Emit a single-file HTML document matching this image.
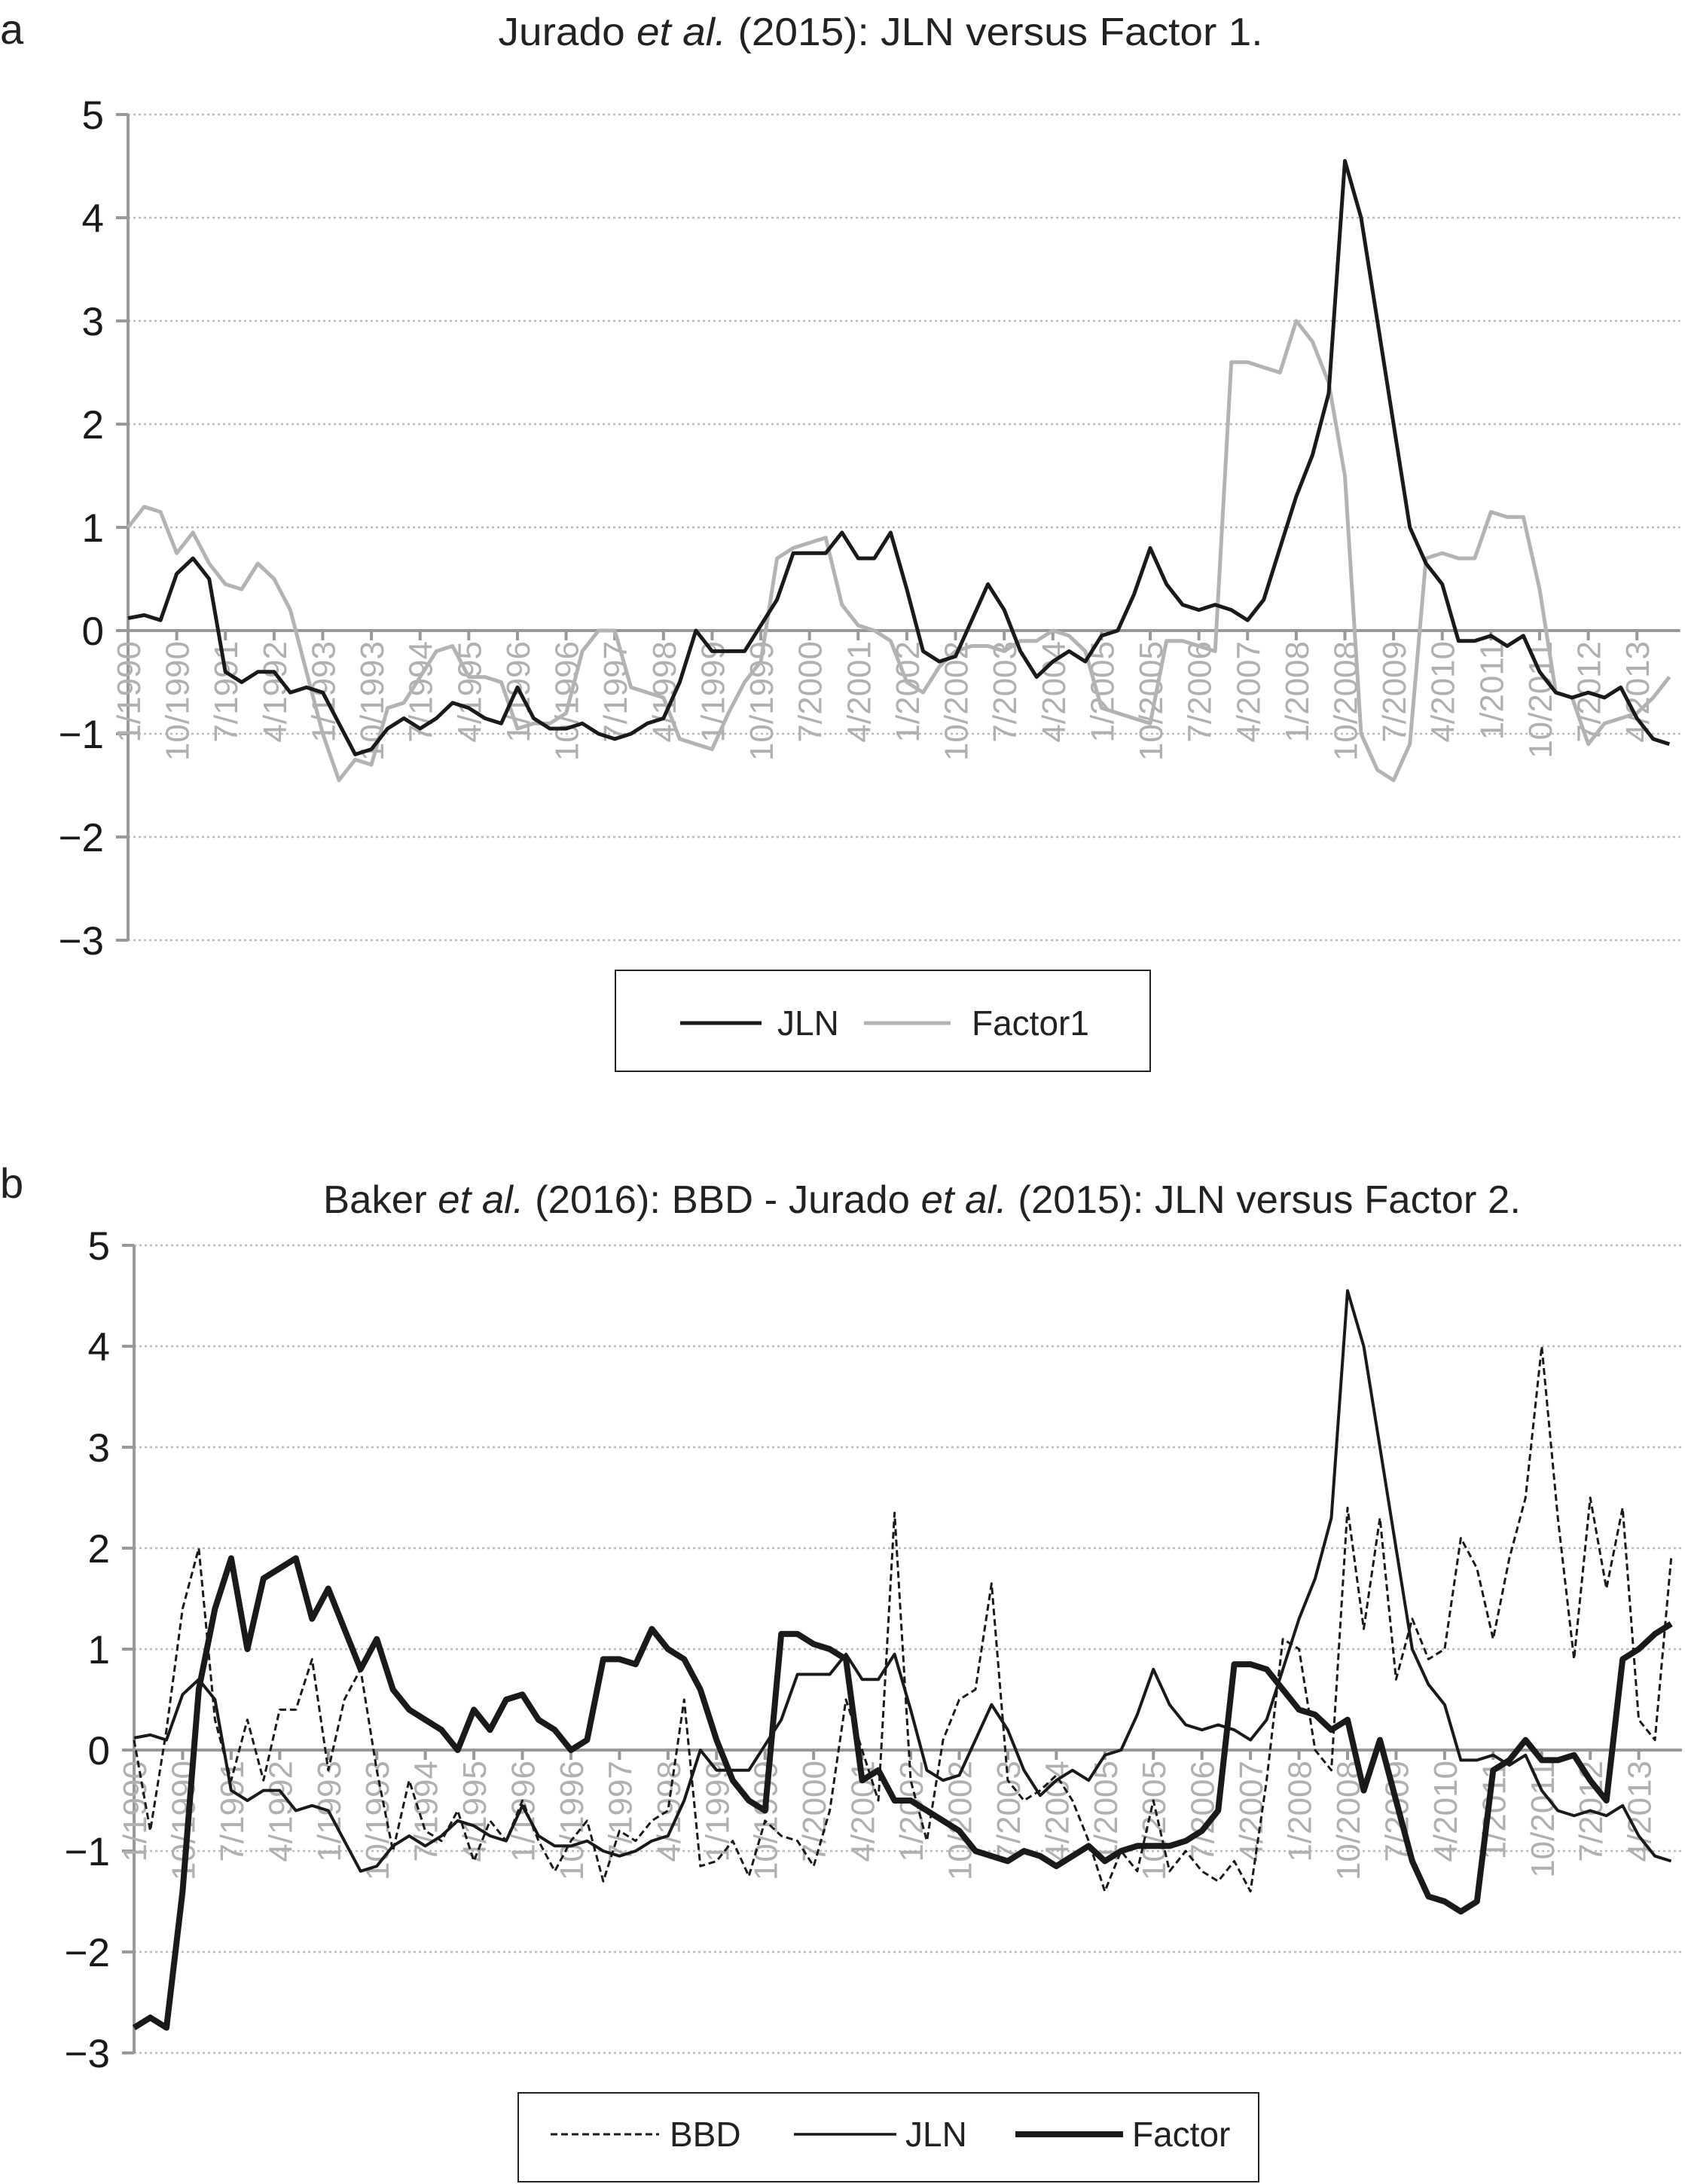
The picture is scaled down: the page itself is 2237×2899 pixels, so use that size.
<!DOCTYPE html>
<html><head><meta charset="utf-8">
<style>
html,body{margin:0;padding:0;background:#fff;}
svg{display:block;font-family:"Liberation Sans",Arial,sans-serif;}
</style></head>
<body>
<svg id="root" width="2237" height="2899" viewBox="0 0 2237 2899" xmlns="http://www.w3.org/2000/svg">
<text x="0" y="58" font-size="56" fill="#222">a</text>
<text x="1169" y="60" font-size="52" fill="#222" text-anchor="middle" textLength="1015" lengthAdjust="spacingAndGlyphs">Jurado <tspan font-style="italic">et al.</tspan> (2015): JLN versus Factor 1.</text>
<text x="0" y="1590" font-size="56" fill="#222">b</text>
<text x="1224" y="1610" font-size="52" fill="#222" text-anchor="middle" textLength="1590" lengthAdjust="spacingAndGlyphs">Baker <tspan font-style="italic">et al.</tspan> (2016): BBD - Jurado <tspan font-style="italic">et al.</tspan>  (2015): JLN versus Factor 2.</text>
<g id="chartA"></g>
<g id="chartB"></g>
<g>
<rect x="817" y="1288" width="710" height="134" fill="#fff" stroke="#222" stroke-width="2"/>
<line x1="903" y1="1358" x2="1011" y2="1358" stroke="#1a1a1a" stroke-width="5"/>
<text x="1032" y="1374" font-size="46" fill="#222">JLN</text>
<line x1="1147" y1="1358" x2="1262" y2="1358" stroke="#b3b3b3" stroke-width="5"/>
<text x="1290" y="1374" font-size="46" fill="#222">Factor1</text>
</g>
<g>
<rect x="688" y="2778" width="983" height="118" fill="#fff" stroke="#222" stroke-width="2"/>
<line x1="731" y1="2833" x2="875" y2="2833" stroke="#1a1a1a" stroke-width="3" stroke-dasharray="9,5"/>
<text x="889" y="2849" font-size="46" fill="#222">BBD</text>
<line x1="1054" y1="2833" x2="1190" y2="2833" stroke="#1a1a1a" stroke-width="3.5"/>
<text x="1202" y="2849" font-size="46" fill="#222">JLN</text>
<line x1="1348" y1="2833" x2="1491" y2="2833" stroke="#1a1a1a" stroke-width="8"/>
<text x="1503" y="2849" font-size="46" fill="#222">Factor</text>
</g>
</svg>
<script>
// quarterly observations (index q = month 3q from 1/1990)
const jln = [0.12,0.15,0.1,0.55,0.7,0.5,-0.4,-0.5,-0.4,-0.4,-0.6,-0.55,-0.6,-0.9,-1.2,-1.15,-0.95,-0.85,-0.95,-0.85,-0.7,-0.75,-0.85,-0.9,-0.55,-0.85,-0.95,-0.95,-0.9,-1.0,-1.05,-1.0,-0.9,-0.85,-0.5,0.0,-0.2,-0.2,-0.2,0.05,0.3,0.75,0.75,0.75,0.95,0.7,0.7,0.95,0.4,-0.2,-0.3,-0.25,0.1,0.45,0.2,-0.2,-0.45,-0.3,-0.2,-0.3,-0.05,0.0,0.35,0.8,0.45,0.25,0.2,0.25,0.2,0.1,0.3,0.8,1.3,1.7,2.3,4.55,4.0,3.0,2.0,1.0,0.65,0.45,-0.1,-0.1,-0.05,-0.15,-0.05,-0.4,-0.6,-0.65,-0.6,-0.65,-0.55,-0.85,-1.05,-1.1];
const factor1 = [1.0,1.2,1.15,0.75,0.95,0.65,0.45,0.4,0.65,0.5,0.2,-0.4,-1.0,-1.45,-1.25,-1.3,-0.75,-0.7,-0.45,-0.2,-0.15,-0.45,-0.45,-0.5,-0.95,-0.9,-0.9,-0.8,-0.2,0.0,0.0,-0.55,-0.6,-0.65,-1.05,-1.1,-1.15,-0.8,-0.5,-0.3,0.7,0.8,0.85,0.9,0.25,0.05,0.0,-0.1,-0.5,-0.6,-0.35,-0.2,-0.15,-0.15,-0.2,-0.1,-0.1,0.0,-0.05,-0.2,-0.75,-0.8,-0.85,-0.9,-0.1,-0.1,-0.15,-0.2,2.6,2.6,2.55,2.5,3.0,2.8,2.4,1.5,-1.0,-1.35,-1.45,-1.1,0.7,0.75,0.7,0.7,1.15,1.1,1.1,0.4,-0.6,-0.65,-1.1,-0.9,-0.85,-0.8,-0.65,-0.45];
const factor2 = [-2.75,-2.65,-2.75,-1.4,0.6,1.4,1.9,1.0,1.7,1.8,1.9,1.3,1.6,1.2,0.8,1.1,0.6,0.4,0.3,0.2,0.0,0.4,0.2,0.5,0.55,0.3,0.2,0.0,0.1,0.9,0.9,0.85,1.2,1.0,0.9,0.6,0.1,-0.3,-0.5,-0.6,1.15,1.15,1.05,1.0,0.9,-0.3,-0.2,-0.5,-0.5,-0.6,-0.7,-0.8,-1.0,-1.05,-1.1,-1.0,-1.05,-1.15,-1.05,-0.95,-1.1,-1.0,-0.95,-0.95,-0.95,-0.9,-0.8,-0.6,0.85,0.85,0.8,0.6,0.4,0.35,0.2,0.3,-0.4,0.1,-0.5,-1.1,-1.45,-1.5,-1.6,-1.5,-0.2,-0.1,0.1,-0.1,-0.1,-0.05,-0.3,-0.5,0.9,1.0,1.15,1.25];
const bbd = [0.1,-0.8,0.2,1.4,2.0,0.3,-0.3,0.3,-0.3,0.4,0.4,0.9,-0.2,0.5,0.8,-0.2,-1.0,-0.3,-0.8,-0.9,-0.6,-1.1,-0.7,-0.9,-0.5,-0.9,-1.2,-0.9,-0.7,-1.3,-0.8,-0.9,-0.7,-0.6,0.5,-1.15,-1.1,-0.9,-1.25,-0.7,-0.85,-0.9,-1.15,-0.6,0.5,0.0,-0.5,2.35,-0.3,-0.9,0.1,0.5,0.6,1.65,-0.3,-0.5,-0.4,-0.25,-0.5,-0.9,-1.4,-1.0,-1.2,-0.5,-1.2,-1.0,-1.2,-1.3,-1.1,-1.4,-0.3,1.1,1.0,0.0,-0.2,2.4,1.2,2.3,0.7,1.3,0.9,1.0,2.1,1.8,1.1,1.9,2.5,4.0,2.3,0.9,2.5,1.6,2.4,0.3,0.1,1.9];
const xLabels = ["1/1990","10/1990","7/1991","4/1992","1/1993","10/1993","7/1994","4/1995","1/1996","10/1996","7/1997","4/1998","1/1999","10/1999","7/2000","4/2001","1/2002","10/2002","7/2003","4/2004","1/2005","10/2005","7/2006","4/2007","1/2008","10/2008","7/2009","4/2010","1/2011","10/2011","7/2012","4/2013"];
const yTicks = [5,4,3,2,1,0,-1,-2,-3];

const NS="http://www.w3.org/2000/svg";
function mk(tag,attrs,parent){const e=document.createElementNS(NS,tag);for(const k in attrs)e.setAttribute(k,attrs[k]);parent.appendChild(e);return e;}

function drawChart(g,x0,y0,unit,step,series,pfx){
  const X=m=>x0+m*step, Y=v=>y0-v*unit;
  const xEnd=X(287);
  yTicks.forEach(v=>{
    if(v!==0){
      const gl=mk('line',{x1:x0,x2:xEnd,y1:Y(v),y2:Y(v),stroke:'#bbb','stroke-width':2.5,'stroke-dasharray':'3,4'},g);
      
      
    }
    const tk=mk('line',{x1:x0-16,x2:x0,y1:Y(v),y2:Y(v),stroke:'#999','stroke-width':4},g);
    
    
    const t=mk('text',{x:x0-32,y:Y(v)+19,'font-size':53,fill:'#1a1a1a','text-anchor':'end'},g);
    t.textContent=v<0?'\u2212'+Math.abs(v):String(v);
    
    
  });
  const ax=mk('line',{x1:x0,x2:x0,y1:Y(5),y2:Y(-3),stroke:'#999','stroke-width':4},g);
  
  
  const zl=mk('line',{x1:x0-16,x2:xEnd,y1:y0,y2:y0,stroke:'#999','stroke-width':4},g);
  
  
  xLabels.forEach((lab,i)=>{
    const m=i*9, x=X(m);
    const tk=mk('line',{x1:x,x2:x,y1:y0,y2:y0+13,stroke:'#999','stroke-width':4},g);
    
    
    const t=mk('text',{x:0,y:0,'font-size':44,fill:'#b0b0b0','text-anchor':'end',transform:`translate(${x+16},${y0+14}) rotate(-90)`},g);
    t.textContent=lab;
    
    
  });
  series.forEach(s=>{
    const pts=s.data.map((v,q)=>X(q*3).toFixed(1)+','+Y(v).toFixed(1)).join(' ');
    const attrs={points:pts,fill:'none',stroke:s.color,'stroke-width':s.w,'stroke-linejoin':'round'};
    if(s.dash)attrs['stroke-dasharray']=s.dash;
    const p=mk('polyline',attrs,g);
    
    
  });
}
drawChart(document.getElementById('chartA'),170,837,137,7.18,[
  {name:'factor1',data:factor1,color:'#b3b3b3',w:5},
  {name:'jln',data:jln,color:'#1a1a1a',w:5}
],'a-');
drawChart(document.getElementById('chartB'),178,2323,134,7.16,[
  {name:'bbd',data:bbd,color:'#1a1a1a',w:3,dash:'9,5'},
  {name:'jln',data:jln,color:'#1a1a1a',w:4},
  {name:'factor',data:factor2,color:'#1a1a1a',w:8}
],'b-');
</script>
</body></html>
